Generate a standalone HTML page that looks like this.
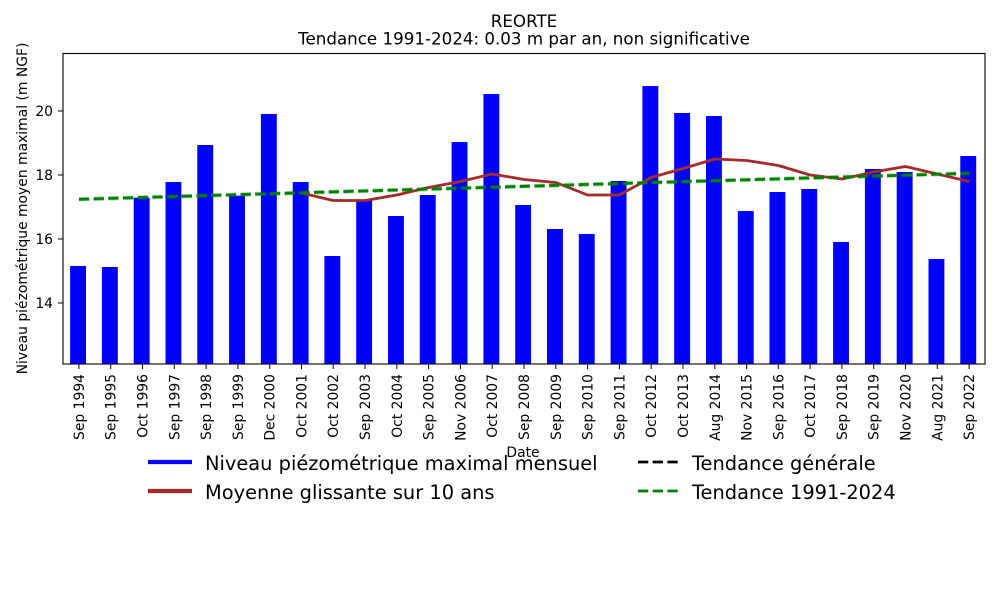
<!DOCTYPE html>
<html><head><meta charset="utf-8"><style>
html,body{margin:0;padding:0;background:#fff;}
svg{display:block;font-family:"DejaVu Sans","Liberation Sans",sans-serif;}
</style></head><body>
<svg width="1000" height="600" viewBox="0 0 1000 600" xmlns="http://www.w3.org/2000/svg">
<rect width="1000" height="600" fill="#fff"/>
<text x="524" y="27" font-size="16.7" text-anchor="middle" fill="#000">REORTE</text>
<text x="524" y="44.5" font-size="16.7" text-anchor="middle" fill="#000">Tendance 1991-2024: 0.03 m par an, non significative</text>
<g fill="#0000ff" transform="translate(-0.8,0)">
<rect x="70.9" y="266" width="15.9" height="98"/>
<rect x="102.7" y="267" width="15.9" height="97"/>
<rect x="134.5" y="197.7" width="15.9" height="166.3"/>
<rect x="166.3" y="182" width="15.9" height="182"/>
<rect x="198.1" y="145" width="15.9" height="219"/>
<rect x="229.9" y="195.7" width="15.9" height="168.3"/>
<rect x="261.7" y="114" width="15.9" height="250"/>
<rect x="293.5" y="182" width="15.9" height="182"/>
<rect x="325.2" y="256" width="15.9" height="108"/>
<rect x="357.0" y="200" width="15.9" height="164"/>
<rect x="388.8" y="216" width="15.9" height="148"/>
<rect x="420.6" y="195" width="15.9" height="169"/>
<rect x="452.4" y="142" width="15.9" height="222"/>
<rect x="484.2" y="94" width="15.9" height="270"/>
<rect x="516.0" y="205" width="15.9" height="159"/>
<rect x="547.8" y="229" width="15.9" height="135"/>
<rect x="579.6" y="234" width="15.9" height="130"/>
<rect x="611.4" y="181" width="15.9" height="183"/>
<rect x="643.2" y="86" width="15.9" height="278"/>
<rect x="675.0" y="113" width="15.9" height="251"/>
<rect x="706.8" y="116" width="15.9" height="248"/>
<rect x="738.6" y="211" width="15.9" height="153"/>
<rect x="770.3" y="192" width="15.9" height="172"/>
<rect x="802.1" y="189" width="15.9" height="175"/>
<rect x="833.9" y="242" width="15.9" height="122"/>
<rect x="865.7" y="169" width="15.9" height="195"/>
<rect x="897.5" y="172" width="15.9" height="192"/>
<rect x="929.3" y="259" width="15.9" height="105"/>
<rect x="961.1" y="156" width="15.9" height="208"/>
</g>
<polyline fill="none" stroke="#a52a2a" stroke-width="2.8" stroke-linejoin="round" points="301.5,193 333.2,200.5 365,200.5 396.8,195 428.6,187.5 460.4,181.5 492.2,174 524,179.5 555.8,182.5 587.6,195 619.4,195 651.2,177.5 683,168.5 714.8,159 746.6,160.5 778.3,165.5 810.1,175 841.9,179 873.7,172 905.5,166.5 937.3,174 969.1,181.5"/>
<line x1="78.9" y1="199.3" x2="969.1" y2="173.3" stroke="#008000" stroke-opacity="0.3" stroke-width="4.5" stroke-dasharray="10.3 4.4"/>
<line x1="78.9" y1="199.3" x2="969.1" y2="173.3" stroke="#008000" stroke-width="2.8" stroke-dasharray="10.3 4.4"/>
<rect x="63" y="53.5" width="922" height="310.5" fill="none" stroke="#000" stroke-width="1.1"/>
<g stroke="#000" stroke-width="1">
<line x1="58" y1="303" x2="63" y2="303"/>
<line x1="58" y1="239" x2="63" y2="239"/>
<line x1="58" y1="175" x2="63" y2="175"/>
<line x1="58" y1="111" x2="63" y2="111"/>
</g>
<g font-size="13.9" text-anchor="end" fill="#000">
<text x="53" y="308">14</text>
<text x="53" y="244">16</text>
<text x="53" y="180">18</text>
<text x="53" y="116">20</text>
</g>
<text transform="translate(27,208.5) rotate(-90)" font-size="13.9" text-anchor="middle">Niveau piézométrique moyen maximal (m NGF)</text>
<g stroke="#000" stroke-width="1">
<line x1="78.9" y1="364" x2="78.9" y2="369"/><line x1="110.7" y1="364" x2="110.7" y2="369"/><line x1="142.5" y1="364" x2="142.5" y2="369"/><line x1="174.3" y1="364" x2="174.3" y2="369"/><line x1="206.1" y1="364" x2="206.1" y2="369"/><line x1="237.9" y1="364" x2="237.9" y2="369"/><line x1="269.7" y1="364" x2="269.7" y2="369"/><line x1="301.5" y1="364" x2="301.5" y2="369"/><line x1="333.2" y1="364" x2="333.2" y2="369"/><line x1="365" y1="364" x2="365" y2="369"/><line x1="396.8" y1="364" x2="396.8" y2="369"/><line x1="428.6" y1="364" x2="428.6" y2="369"/><line x1="460.4" y1="364" x2="460.4" y2="369"/><line x1="492.2" y1="364" x2="492.2" y2="369"/><line x1="524" y1="364" x2="524" y2="369"/><line x1="555.8" y1="364" x2="555.8" y2="369"/><line x1="587.6" y1="364" x2="587.6" y2="369"/><line x1="619.4" y1="364" x2="619.4" y2="369"/><line x1="651.2" y1="364" x2="651.2" y2="369"/><line x1="683" y1="364" x2="683" y2="369"/><line x1="714.8" y1="364" x2="714.8" y2="369"/><line x1="746.6" y1="364" x2="746.6" y2="369"/><line x1="778.3" y1="364" x2="778.3" y2="369"/><line x1="810.1" y1="364" x2="810.1" y2="369"/><line x1="841.9" y1="364" x2="841.9" y2="369"/><line x1="873.7" y1="364" x2="873.7" y2="369"/><line x1="905.5" y1="364" x2="905.5" y2="369"/><line x1="937.3" y1="364" x2="937.3" y2="369"/><line x1="969.1" y1="364" x2="969.1" y2="369"/>
</g>
<g font-size="13.9" text-anchor="end" fill="#000">
<text transform="translate(83.9,374) rotate(-90)">Sep 1994</text>
<text transform="translate(115.7,374) rotate(-90)">Sep 1995</text>
<text transform="translate(147.5,374) rotate(-90)">Oct 1996</text>
<text transform="translate(179.3,374) rotate(-90)">Sep 1997</text>
<text transform="translate(211.1,374) rotate(-90)">Sep 1998</text>
<text transform="translate(242.9,374) rotate(-90)">Sep 1999</text>
<text transform="translate(274.7,374) rotate(-90)">Dec 2000</text>
<text transform="translate(306.5,374) rotate(-90)">Oct 2001</text>
<text transform="translate(338.2,374) rotate(-90)">Oct 2002</text>
<text transform="translate(370,374) rotate(-90)">Sep 2003</text>
<text transform="translate(401.8,374) rotate(-90)">Oct 2004</text>
<text transform="translate(433.6,374) rotate(-90)">Sep 2005</text>
<text transform="translate(465.4,374) rotate(-90)">Nov 2006</text>
<text transform="translate(497.2,374) rotate(-90)">Oct 2007</text>
<text transform="translate(529,374) rotate(-90)">Sep 2008</text>
<text transform="translate(560.8,374) rotate(-90)">Sep 2009</text>
<text transform="translate(592.6,374) rotate(-90)">Sep 2010</text>
<text transform="translate(624.4,374) rotate(-90)">Sep 2011</text>
<text transform="translate(656.2,374) rotate(-90)">Oct 2012</text>
<text transform="translate(688,374) rotate(-90)">Oct 2013</text>
<text transform="translate(719.8,374) rotate(-90)">Aug 2014</text>
<text transform="translate(751.6,374) rotate(-90)">Nov 2015</text>
<text transform="translate(783.3,374) rotate(-90)">Sep 2016</text>
<text transform="translate(815.1,374) rotate(-90)">Oct 2017</text>
<text transform="translate(846.9,374) rotate(-90)">Sep 2018</text>
<text transform="translate(878.7,374) rotate(-90)">Sep 2019</text>
<text transform="translate(910.5,374) rotate(-90)">Nov 2020</text>
<text transform="translate(942.3,374) rotate(-90)">Aug 2021</text>
<text transform="translate(974.1,374) rotate(-90)">Sep 2022</text>
</g>
<text x="523" y="457" font-size="13.9" text-anchor="middle">Date</text>
<line x1="148" y1="462" x2="192" y2="462" stroke="#0000ff" stroke-width="4.2"/>
<line x1="148" y1="491" x2="192" y2="491" stroke="#a52a2a" stroke-width="4.2"/>
<line x1="638" y1="462" x2="678" y2="462" stroke="#000" stroke-width="2.8" stroke-dasharray="10.3 4.4"/>
<line x1="638" y1="491" x2="678" y2="491" stroke="#008000" stroke-width="2.8" stroke-dasharray="10.3 4.4"/>
<g font-size="19.4" fill="#000">
<text x="205" y="470">Niveau piézométrique maximal mensuel</text>
<text x="205" y="499">Moyenne glissante sur 10 ans</text>
<text x="692" y="470">Tendance générale</text>
<text x="692" y="499">Tendance 1991-2024</text>
</g>
</svg>
</body></html>
